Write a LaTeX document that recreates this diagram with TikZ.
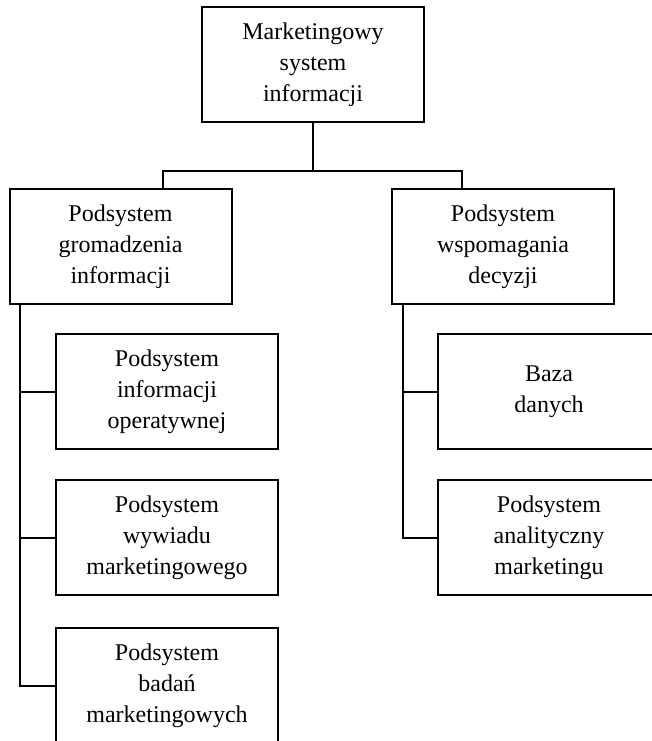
\documentclass[tikz,border=0pt]{standalone}
\usepackage{fontspec}
\setmainfont{Liberation Serif}
\usetikzlibrary{positioning}

\begin{document}
\begin{tikzpicture}[x=1pt,y=-1pt]
	\useasboundingbox (0,0) rectangle (651,741);
				\begin{scope}[every node/.style = {rectangle, draw, line width=2pt,
						minimum width=222pt, minimum height=115pt, inner sep=0pt,
						align=center, font=\fontsize{24}{31}\selectfont}]
					\node (M) at (313,65) {Marketingowy\\system\\informacji};
					\node (G) at (120.5,246.5) {Podsystem\\gromadzenia\\informacji};
					\node (W) at (503,246.5) {Podsystem\\wspomagania\\decyzji};
					\node (G1) at (167,391.5) {Podsystem\\informacji\\operatywnej};
					\node (G2) at (167,537.5) {Podsystem\\wywiadu\\marketingowego};
					\node (G3) at (167,685.5) {Podsystem\\badań\\marketingowych};
					\node (W1) at (549,391.5) {Baza\\danych};
					\node (W2) at (549,537.5) {Podsystem\\analityczny\\marketingu};
				\end{scope}
					\coordinate (busL) at (163,171);
					\coordinate (busR) at (462,171);
					\coordinate (tl) at (20,304);
					\coordinate (tr) at (403,304);
				\begin{scope}[every edge/.style={draw=black, line width=2pt}]
					\path [-] (M.south) edge (M.south |- busL);
					\draw [line width=2pt] (G.north -| busL) -- (busL) -- (busR) -- (W.north -| busR);
					\draw [line width=2pt] (tl) |- (G3.west);
					\path [-] (tl |- G1.west) edge (G1.west);
					\path [-] (tl |- G2.west) edge (G2.west);
					\draw [line width=2pt] (tr) |- (W2.west);
					\path [-] (tr |- W1.west) edge (W1.west);
				\end{scope}
			\end{tikzpicture}
\end{document}
